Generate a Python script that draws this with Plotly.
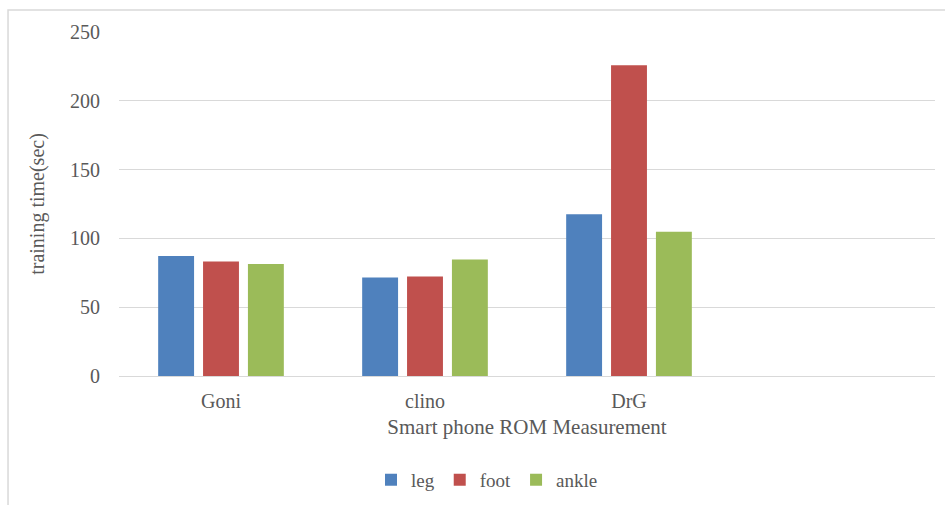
import plotly.graph_objects as go

# Training time (sec) per smartphone ROM measurement method
methods = ["Goni", "clino", "DrG"]
leg = [87.2, 71.6, 117.6]
foot = [83.2, 72.4, 225.8]
ankle = [81.4, 84.6, 104.8]

series = [("leg", leg, "#4F81BD"), ("foot", foot, "#C0504D"), ("ankle", ankle, "#9BBB59")]

font_family = "Liberation Serif, Times New Roman, serif"
grey = "#595959"

fig = go.Figure()
for name, vals, color in series:
    fig.add_trace(go.Bar(
        x=methods, y=vals, name=name,
        marker=dict(color=color, line=dict(width=0)),
    ))

fig.update_layout(
    width=945, height=505,
    margin=dict(l=119, r=10, t=32, b=129, autoexpand=False),
    paper_bgcolor="white", plot_bgcolor="white",
    barmode="group", bargap=0.34, bargroupgap=0.2,
    font=dict(family=font_family, size=20, color=grey),
    showlegend=True,
    legend=dict(
        orientation="h", x=0.451, xanchor="center", y=-0.302, yanchor="middle",
        font=dict(size=19, color=grey), itemwidth=30, traceorder="normal",
    ),
    xaxis=dict(
        type="category", categoryorder="array", categoryarray=methods,
        range=[-0.5, 3.5], showgrid=False, showline=False, ticks="",
        tickfont=dict(size=20), ticklabelstandoff=11, automargin=False,
        title=dict(text="Smart phone ROM Measurement", font=dict(size=21), standoff=8),
    ),
    yaxis=dict(
        range=[0, 250], tickvals=[0, 50, 100, 150, 200, 250],
        showgrid=True, gridcolor="#D9D9D9", gridwidth=1,
        zeroline=True, zerolinecolor="#D9D9D9", zerolinewidth=1,
        showline=False, ticks="", tickfont=dict(size=20), ticklabelstandoff=18,
        automargin=False,
        title=dict(text="training time(sec)", font=dict(size=20), standoff=20),
    ),
)

# Chart frame (left and top edges fall inside the page)
fig.add_shape(
    type="rect", xref="paper", yref="paper",
    x0=-0.136, x1=1.2, y0=-0.6, y1=1.064,
    line=dict(color="#D9D9D9", width=1.5), fillcolor="rgba(0,0,0,0)", layer="below",
)

fig.write_html("out.html")
